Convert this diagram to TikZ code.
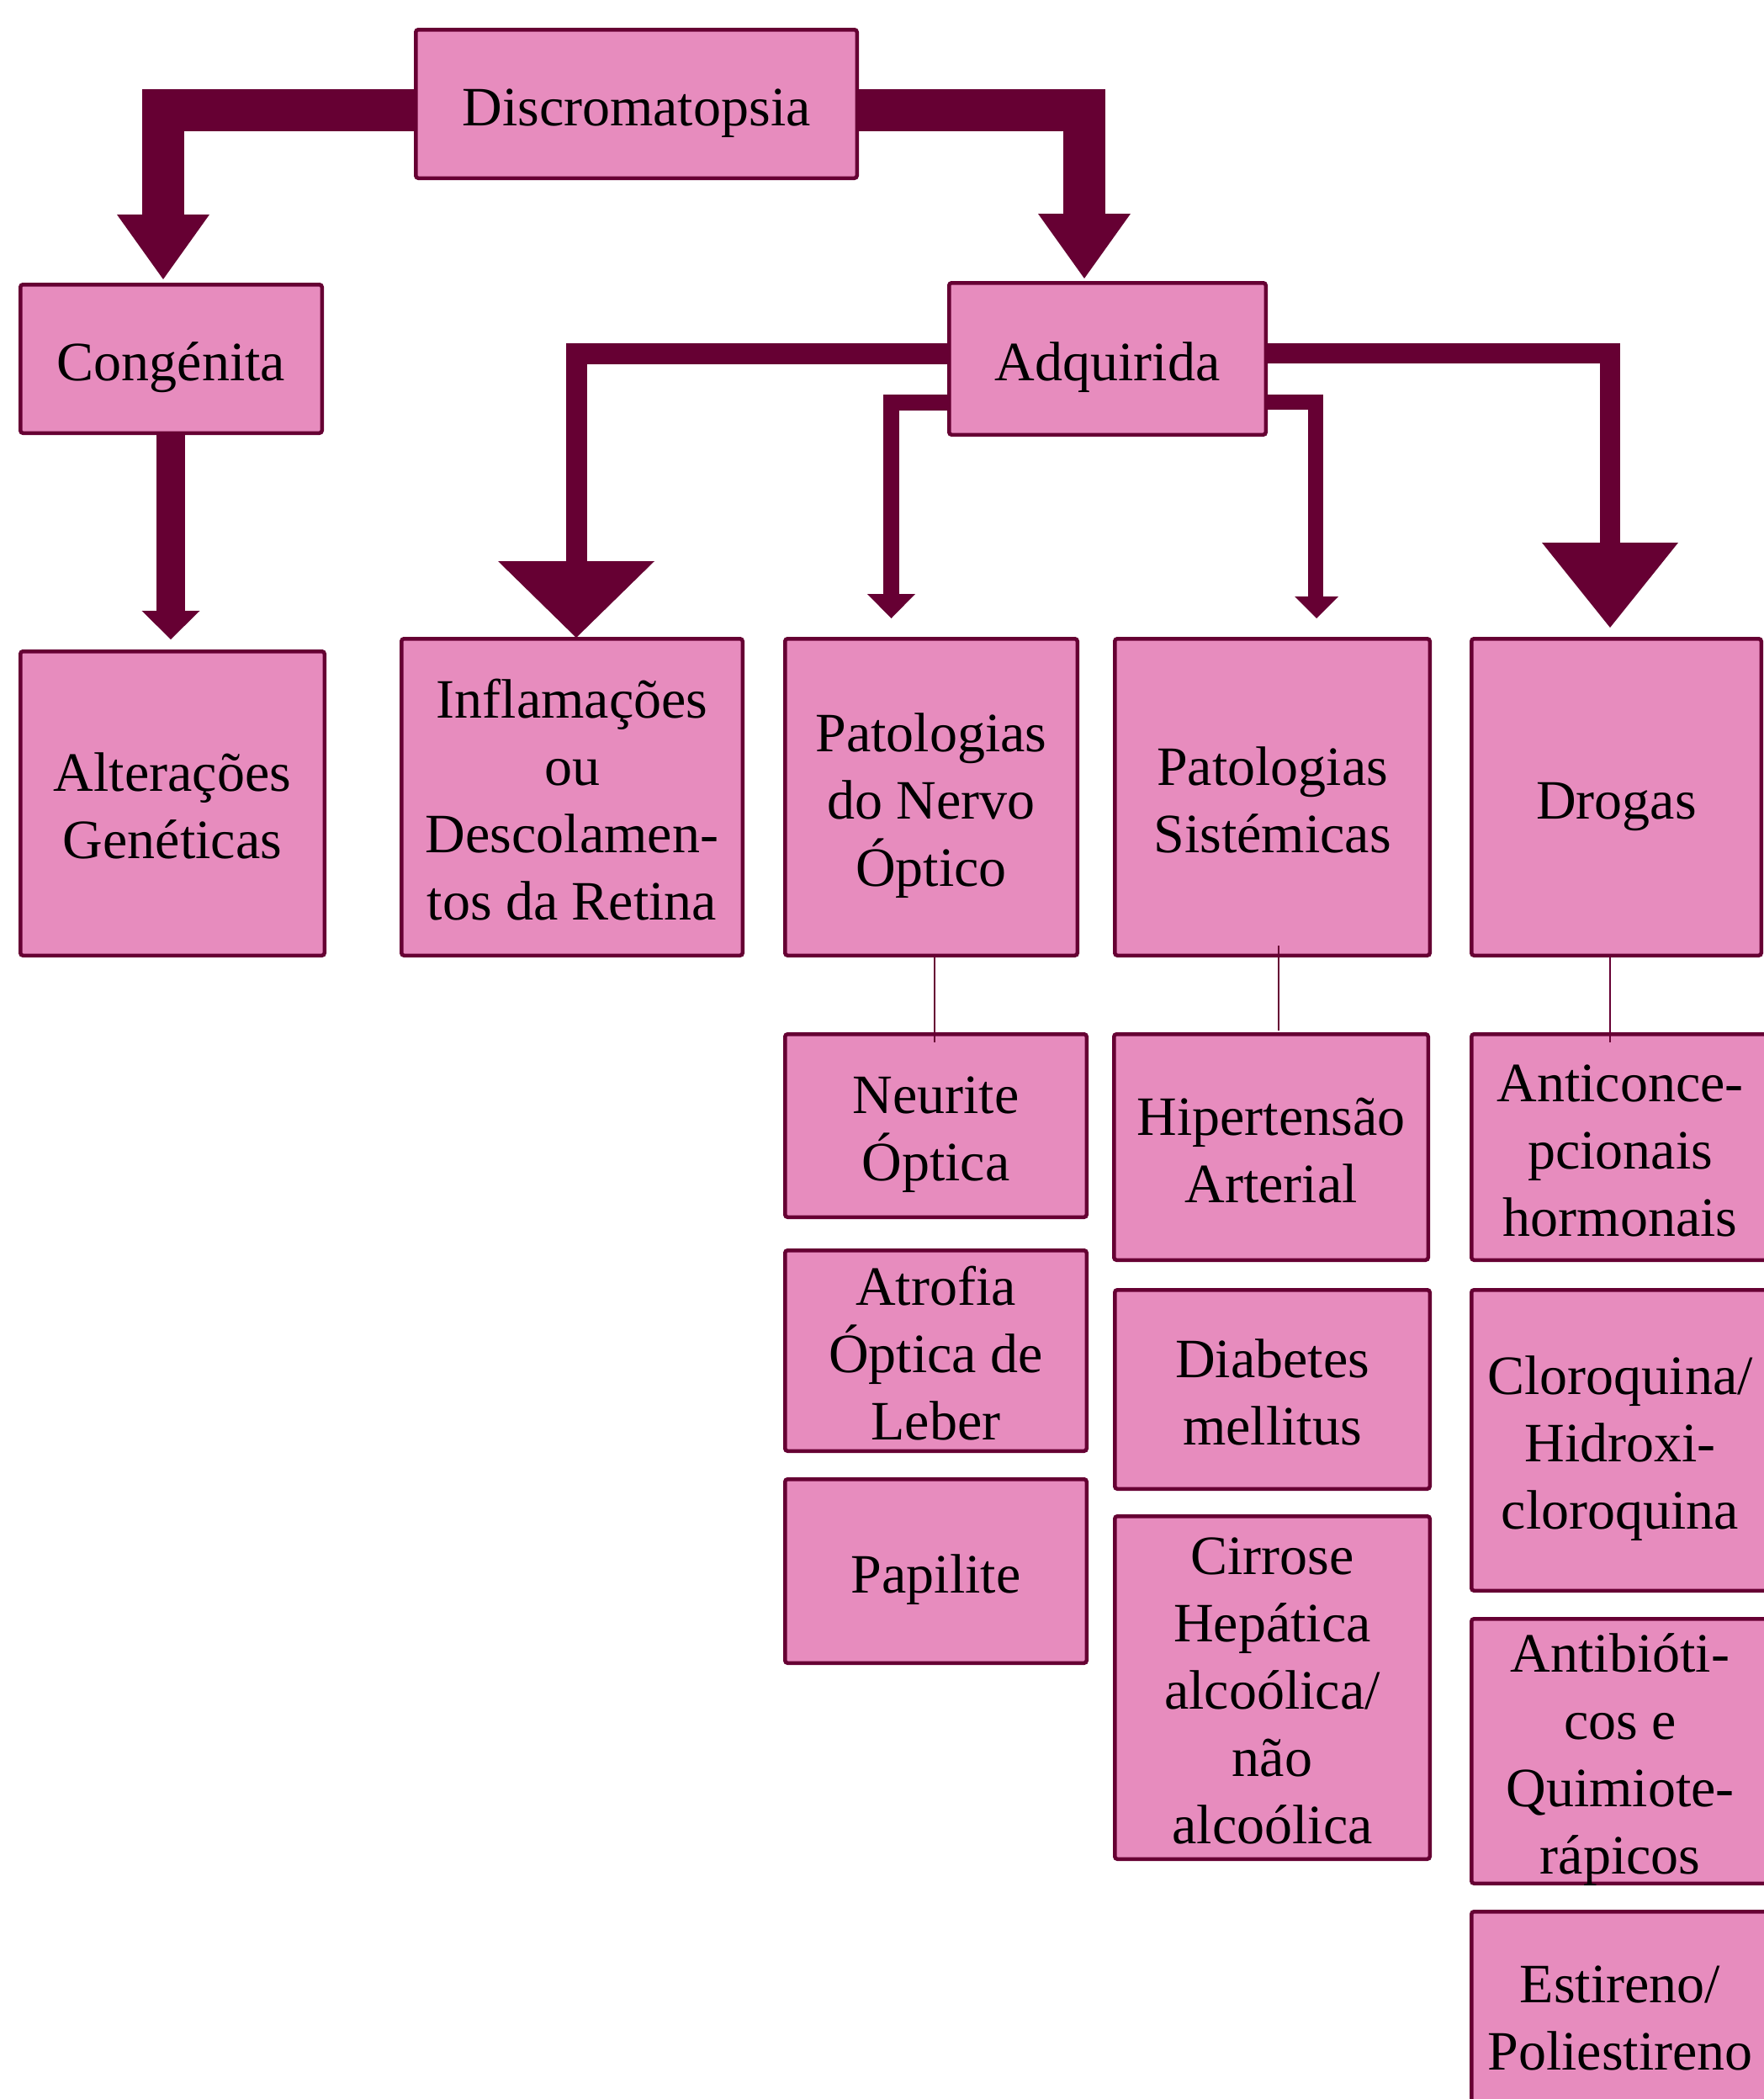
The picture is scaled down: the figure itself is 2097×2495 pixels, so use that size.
\documentclass[tikz,border=0pt]{standalone}
\usepackage{fontspec}
\setmainfont{Liberation Serif}
\usetikzlibrary{backgrounds}
\definecolor{mybord}{HTML}{660033}
\definecolor{mypink}{HTML}{E78CBE}
\tikzset{
  box/.style={draw=mybord, fill=mypink, line width=2.25pt, rounded corners=1.5pt,
    inner sep=0pt, align=center, font=\fontsize{33}{40}\selectfont, text=black,
    text depth=0pt},
  shaft/.style={draw=mybord, line join=miter},
  arr/.style={fill=mybord},
  thinline/.style={draw=mybord, line width=1pt}
}
% name, x1, y1, x2, y2, number of lines, text
\newcommand\bx[7]{\node[box, text height={25.5pt+(#6-1)*40pt}, minimum width={(#4-#2-4.5)*0.5pt}, minimum height={(#5-#3-4.5)*0.5pt}] (#1) at ({(#2+#4)/2},{(#3+#5)/2}) {#7};}
\begin{document}
\begin{tikzpicture}[x=0.5pt,y=-0.5pt]
\useasboundingbox (0,0) rectangle (2097,2495);
% boxes
\bx{disc}{492}{33}{1021}{214}{1}{Discromatopsia}
\bx{cong}{22}{336}{385}{517}{1}{Congénita}
\bx{adq}{1126}{334}{1507}{519}{1}{Adquirida}
\bx{alt}{22}{772}{388}{1138}{2}{Alterações\\Genéticas}
\bx{infl}{475}{757}{885}{1138}{4}{Inflamações\\ou\\Descolamen-\\tos da Retina}
\bx{nervo}{931}{757}{1283}{1138}{3}{Patologias\\do Nervo\\Óptico}
\bx{sist}{1323}{757}{1702}{1138}{2}{Patologias\\Sistémicas}
\bx{drog}{1747}{757}{2096}{1138}{1}{Drogas}
\bx{neur}{931}{1227}{1294}{1449}{2}{Neurite\\Óptica}
\bx{atro}{931}{1484}{1294}{1727}{3}{Atrofia\\Óptica de\\Leber}
\bx{papi}{931}{1756}{1294}{1979}{1}{Papilite}
\bx{hip}{1322}{1227}{1700}{1500}{2}{Hipertensão\\Arterial}
\bx{diab}{1323}{1531}{1702}{1772}{2}{Diabetes\\mellitus}
\bx{cirr}{1323}{1800}{1702}{2212}{5}{Cirrose\\Hepática\\alcoólica/\\não\\alcoólica}
\bx{anti}{1747}{1227}{2105}{1500}{3}{Anticonce-\\pcionais\\hormonais}
\bx{clor}{1747}{1531}{2105}{1893}{3}{Cloroquina/\\Hidroxi-\\cloroquina}
\bx{antb}{1747}{1922}{2105}{2241}{4}{Antibióti-\\cos e\\Quimiote-\\rápicos}
\bx{esti}{1747}{2270}{2105}{2520}{2}{Estireno/\\Poliestireno}
% arrows
\begin{pgfonlayer}{background}
\fill[white] (0,0) rectangle (2097,2495);
% Discromatopsia -> Congenita
\draw[shaft, line width=25pt] (disc.west |- 0,131) -| (194,258);
\fill[arr] (cong.north -| 194,0) ++(0,-4) -- ++(-55,-77) -- ++(110,0) -- cycle;
% Discromatopsia -> Adquirida
\draw[shaft, line width=25pt] (disc.east |- 0,131) -| (1289,258);
\fill[arr] (adq.north -| 1289,0) ++(0,-3) -- ++(-55,-77) -- ++(110,0) -- cycle;
% Congenita -> Alteracoes
\draw[shaft, line width=17pt] (cong.south -| 203,0) -- (203,730);
\fill[arr] (alt.north -| 203,0) ++(0,-12) -- ++(-34.5,-34) -- ++(69,0) -- cycle;
% Adquirida -> Inflamacoes
\draw[shaft, line width=12.5pt] (adq.west |- 0,420.5) -| (685,671);
\fill[arr] (infl.north -| 685,0) ++(0,1) -- ++(-93,-91) -- ++(186,0) -- cycle;
% Adquirida -> Nervo
\draw[shaft, line width=9.5pt] (adq.west |- 0,478.5) -| (1059.5,710);
\fill[arr] (nervo.north -| 1059.5,0) ++(0,-22) -- ++(-28.5,-29) -- ++(57,0) -- cycle;
% Adquirida -> Sistemicas
\draw[shaft, line width=9pt] (adq.east |- 0,478) -| (1564,713);
\fill[arr] (sist.north -| 1565,0) ++(0,-22) -- ++(-26,-26) -- ++(52,0) -- cycle;
% Adquirida -> Drogas
\draw[shaft, line width=12pt] (adq.east |- 0,420) -| (1913.5,649);
\fill[arr] (drog.north -| 1914,0) ++(0,-11) -- ++(-81,-101) -- ++(162,0) -- cycle;
\end{pgfonlayer}
% thin connectors
\draw[thinline] (nervo.south -| 1111,0) -- ++(0,101);
\draw[thinline] (sist.south -| 1520,0) ++(0,-14) -- ++(0,101);
\draw[thinline] (drog.south -| 1914,0) -- ++(0,101);
\end{tikzpicture}
\end{document}
